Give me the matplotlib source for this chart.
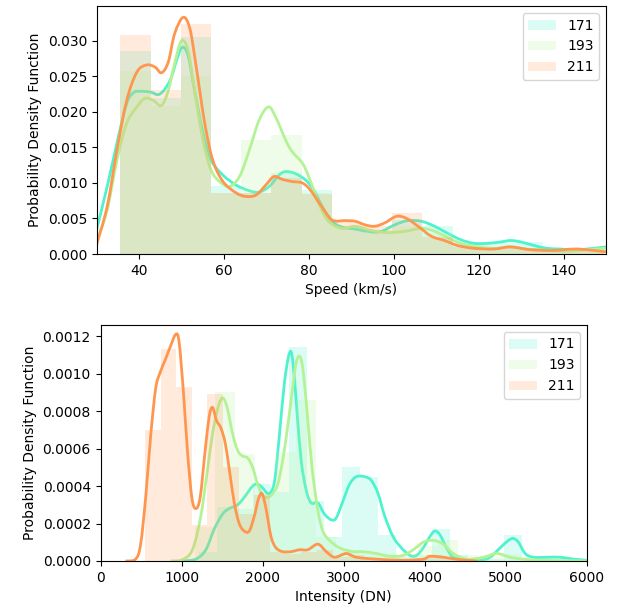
import numpy as np
import matplotlib
matplotlib.use("Agg")
import matplotlib.pyplot as plt
from matplotlib.path import Path
from matplotlib.patches import PathPatch

# channel labels and colours (rainbow palette)
channels = ["171", "193", "211"]
cmap = plt.get_cmap("rainbow")
colors = [cmap(0.4), cmap(0.6), cmap(0.8)]

# ---- speed distributions ----
speed_bin_start = 35.5
speed_bin_width = 7.12
speed_hist = {
    "171": [0.0286, 0.0219, 0.0306, 0.0096, 0.0086, 0.0114, 0.0090, 0.0039,
            0.0034, 0.0048, 0.0039, 0.0016, 0.0017, 0.0017, 0.0006, 0.0006],
    "193": [0.0257, 0.0208, 0.0250, 0.0086, 0.0160, 0.0167, 0.0086, 0.0036,
            0.0033, 0.0040, 0.0030, 0.0012, 0.0010, 0.0009, 0.0005, 0.0006],
    "211": [0.0308, 0.0231, 0.0323, 0.0086, 0.0086, 0.0107, 0.0084, 0.0045,
            0.0040, 0.0057, 0.0024, 0.0010, 0.0008, 0.0008, 0.0005, 0.0006],
}

speed_kde_171_x = [29.9, 32.4, 34.7, 37.0, 38.6, 40.0, 42.5, 44.8, 47.2, 48.9, 50.1, 51.5,
                   53.0, 55.0, 56.9, 59.7, 62.8, 65.9, 68.2, 70.6, 72.9, 74.5, 76.8, 79.2,
                   81.1, 83.1, 85.4, 87.7, 90.9, 94.8, 97.1, 100.2, 103.3, 106.5, 109.6,
                   112.7, 115.8, 118.9, 122.1, 125.2, 127.5, 129.9, 133.0, 136.1, 139.2,
                   142.3, 145.5, 150.0]
speed_kde_171_y = [0.0034, 0.0095, 0.0156, 0.0212, 0.0227, 0.0229, 0.0228, 0.0225, 0.0244,
                   0.0275, 0.0291, 0.0279, 0.0230, 0.0170, 0.0132, 0.0111, 0.0097, 0.0089,
                   0.0087, 0.0095, 0.0111, 0.0116, 0.0113, 0.0104, 0.0090, 0.0067, 0.0046,
                   0.0038, 0.0035, 0.0031, 0.0032, 0.0041, 0.0047, 0.0046, 0.0039, 0.0029,
                   0.0020, 0.0015, 0.0015, 0.0017, 0.0019, 0.0017, 0.0012, 0.0008, 0.0007,
                   0.0006, 0.0007, 0.0010]

speed_kde_193_x = [29.9, 32.4, 34.7, 37.0, 39.4, 41.3, 43.3, 45.2, 46.8, 48.3, 49.9, 51.5,
                   53.0, 55.0, 56.9, 58.9, 61.2, 63.6, 65.9, 68.2, 70.4, 72.1, 74.5, 76.0,
                   78.4, 79.9, 82.3, 84.6, 87.7, 90.9, 94.8, 98.7, 102.6, 106.5, 109.6,
                   112.7, 115.8, 119.7, 123.6, 127.5, 131.4, 136.1, 140.8, 145.5, 150.0]
speed_kde_193_y = [0.0018, 0.0062, 0.0132, 0.0184, 0.0207, 0.0219, 0.0216, 0.0209, 0.0230,
                   0.0268, 0.0300, 0.0286, 0.0230, 0.0160, 0.0118, 0.0102, 0.0095, 0.0109,
                   0.0146, 0.0188, 0.0207, 0.0193, 0.0160, 0.0144, 0.0128, 0.0109, 0.0071,
                   0.0046, 0.0036, 0.0039, 0.0033, 0.0030, 0.0032, 0.0036, 0.0032, 0.0023,
                   0.0015, 0.0010, 0.0008, 0.0010, 0.0007, 0.0005, 0.0004, 0.0006, 0.0008]

speed_kde_211_x = [29.9, 32.4, 34.7, 37.0, 39.4, 41.7, 43.7, 45.2, 46.8, 48.3, 50.3, 51.9,
                   53.4, 55.4, 57.3, 59.7, 62.8, 65.1, 67.5, 69.8, 71.7, 73.7, 76.0, 78.4,
                   80.3, 82.7, 85.4, 88.5, 90.9, 93.2, 95.5, 97.9, 100.6, 103.0, 105.7,
                   108.8, 111.9, 115.0, 118.9, 123.6, 127.5, 132.2, 137.7, 142.3, 145.5, 150.0]
speed_kde_211_y = [0.0013, 0.0067, 0.0146, 0.0216, 0.0256, 0.0266, 0.0263, 0.0255, 0.0270,
                   0.0310, 0.0333, 0.0317, 0.0263, 0.0184, 0.0132, 0.0102, 0.0086, 0.0081,
                   0.0083, 0.0097, 0.0109, 0.0105, 0.0102, 0.0100, 0.0090, 0.0069, 0.0048,
                   0.0047, 0.0046, 0.0041, 0.0039, 0.0044, 0.0053, 0.0050, 0.0039, 0.0025,
                   0.0019, 0.0012, 0.0008, 0.0007, 0.0010, 0.0006, 0.0005, 0.0007, 0.0006,
                   0.0003]

# ---- intensity distributions ----
int_bin_start = {"171": 994, "193": 1160, "211": 547}
int_bin_width = {"171": 221, "193": 250, "211": 193}
int_hist = {
    "171": [0.00001, 0.00005, 0.00029, 0.00028, 0.00041, 0.00037, 0.00114, 0.00032,
            0.00013, 0.00050, 0.00045, 0.00014, 0.00002, 0.00003, 0.00017, 0.00003,
            0.00001, 0.00001, 0.00014, 0.00001, 0.00002, 0.00001],
    "193": [0.00018, 0.00090, 0.00057, 0.00036, 0.00058, 0.00086, 0.00013, 0.00006,
            0.00005, 0.00004, 0.00003, 0.00008, 0.00011, 0.00003, 0.00002, 0.00004,
            0.00001],
    "211": [0.00070, 0.00113, 0.00093, 0.00019, 0.00089, 0.00050, 0.00025, 0.00035,
            0.00005, 0.00004, 0.00005, 0.00006, 0.00002, 0.00003, 0.00001, 0.00001,
            0.0, 0.00001, 0.00003, 0.00001, 0.00001],
}

int_kde_171_x = [1010, 1175, 1299, 1402, 1505, 1588, 1691, 1773, 1876, 1938, 2000, 2074,
                 2144, 2206, 2268, 2330, 2371, 2421, 2474, 2536, 2598, 2681, 2763, 2846,
                 2907, 2990, 3072, 3155, 3258, 3340, 3423, 3505, 3608, 3712, 3815, 3897,
                 3980, 4062, 4124, 4186, 4268, 4351, 4475, 4681, 4804, 4928, 5031, 5093,
                 5155, 5237, 5340, 5505, 5670, 5835, 6000]
int_kde_171_y = [0.0, 0.00001, 0.00006, 0.00017, 0.00025, 0.00028, 0.00030, 0.00034,
                 0.00040, 0.00041, 0.00039, 0.00036, 0.00042, 0.00067, 0.00095, 0.00111,
                 0.00107, 0.00081, 0.00054, 0.00038, 0.00031, 0.00031, 0.00025, 0.00022,
                 0.00023, 0.00032, 0.00041, 0.00045, 0.00045, 0.00043, 0.00036, 0.00024,
                 0.00013, 0.00007, 0.00003, 0.00003, 0.00007, 0.00013, 0.00016, 0.00014,
                 0.00007, 0.00002, 0.00001, 0.000004, 0.00002, 0.00007, 0.00011, 0.00012,
                 0.00010, 0.00004, 0.00002, 0.00002, 0.00002, 0.00001, 0.000004]

int_kde_193_x = [866, 1010, 1134, 1237, 1320, 1390, 1456, 1513, 1567, 1629, 1691, 1753,
                 1815, 1876, 1938, 2000, 2062, 2124, 2186, 2248, 2309, 2363, 2413, 2462,
                 2503, 2557, 2611, 2681, 2742, 2825, 2949, 3114, 3237, 3402, 3567, 3732,
                 3856, 3980, 4103, 4227, 4351, 4516, 4722, 4887, 5052, 5217, 5423, 6000]
int_kde_193_y = [0.0, 0.000007, 0.00006, 0.00024, 0.00049, 0.00070, 0.00083, 0.00087,
                 0.00081, 0.00068, 0.00059, 0.00056, 0.00055, 0.00050, 0.00041, 0.00035,
                 0.00034, 0.00036, 0.00041, 0.00054, 0.00072, 0.00090, 0.00106, 0.00109,
                 0.00100, 0.00075, 0.00049, 0.00027, 0.00016, 0.00011, 0.00007, 0.00005,
                 0.00005, 0.00004, 0.000025, 0.00003, 0.00006, 0.00010, 0.00011, 0.00009,
                 0.00004, 0.00001, 0.00002, 0.00004, 0.00002, 0.00001, 0.000004, 0.0]

int_kde_211_x = [309, 433, 495, 557, 619, 680, 730, 804, 866, 928, 969, 1023, 1072, 1126,
                 1175, 1229, 1291, 1340, 1382, 1431, 1485, 1538, 1588, 1650, 1711, 1773,
                 1835, 1897, 1947, 1992, 2041, 2103, 2165, 2248, 2351, 2454, 2557, 2681,
                 2784, 2887, 3031, 3155, 3402, 3732, 3980, 4062, 4227, 4433, 4640]
int_kde_211_y = [0.0, 0.00001, 0.00009, 0.00034, 0.00067, 0.00092, 0.00100, 0.00108,
                 0.00115, 0.00121, 0.00117, 0.00090, 0.00059, 0.00034, 0.00028, 0.00034,
                 0.00059, 0.00077, 0.00082, 0.00075, 0.00071, 0.00063, 0.00049, 0.00031,
                 0.00020, 0.00016, 0.00016, 0.00024, 0.00033, 0.00036, 0.00028, 0.00013,
                 0.00007, 0.00005, 0.00005, 0.00006, 0.00006, 0.00009, 0.00005, 0.00002,
                 0.00004, 0.00002, 0.00001, 0.000004, 0.00001, 0.000025, 0.00002,
                 0.000007, 0.0]

speed_kde = {"171": (speed_kde_171_x, speed_kde_171_y),
             "193": (speed_kde_193_x, speed_kde_193_y),
             "211": (speed_kde_211_x, speed_kde_211_y)}
int_kde = {"171": (int_kde_171_x, int_kde_171_y),
           "193": (int_kde_193_x, int_kde_193_y),
           "211": (int_kde_211_x, int_kde_211_y)}


def smooth_path(xs, ys):
    """Bezier path running through every point (Catmull-Rom tangents)"""
    pts = np.column_stack([xs, ys]).astype(float)
    padded = np.vstack([pts[0], pts, pts[-1]])
    verts = [pts[0]]
    codes = [Path.MOVETO]
    for i in range(len(pts) - 1):
        p0, p1, p2, p3 = padded[i], padded[i + 1], padded[i + 2], padded[i + 3]
        verts += [p1 + (p2 - p0) / 6, p2 - (p3 - p1) / 6, p2]
        codes += [Path.CURVE4] * 3
    return Path(verts, codes)


def draw_dist(ax, start, width, heights, kde, color, label):
    """histogram bars plus a density curve, like seaborn's distplot"""
    heights = np.asarray(heights)
    lefts = start + width * np.arange(len(heights))
    ax.bar(lefts, heights, width=width, align="edge", color=color,
           alpha=0.2, linewidth=0, label=label)
    ax.add_patch(PathPatch(smooth_path(*kde), facecolor="none",
                           edgecolor=color, lw=2))


fig = plt.figure(figsize=(6.28, 6.12), dpi=100)
ax1 = fig.add_axes([97 / 628, 358 / 612, 509 / 628, 248 / 612])
ax2 = fig.add_axes([100.5 / 628, 51 / 612, 486.5 / 628, 236 / 612])

for ch, col in zip(channels, colors):
    draw_dist(ax1, speed_bin_start, speed_bin_width, speed_hist[ch],
              speed_kde[ch], col, ch)
    draw_dist(ax2, int_bin_start[ch], int_bin_width[ch], int_hist[ch],
              int_kde[ch], col, ch)

ax1.set_xlim(30, 150)
ax1.set_ylim(0, 0.0349)
ax1.set_xlabel("Speed (km/s)")
ax1.set_ylabel("Probability Density Function")
ax1.legend(loc="upper right")

ax2.set_xlim(0, 6000)
ax2.set_ylim(0, 0.00126)
ax2.set_xlabel("Intensity (DN)")
ax2.set_ylabel("Probability Density Function")
ax2.legend(loc="upper right")

fig.savefig("out.png", dpi=100)
